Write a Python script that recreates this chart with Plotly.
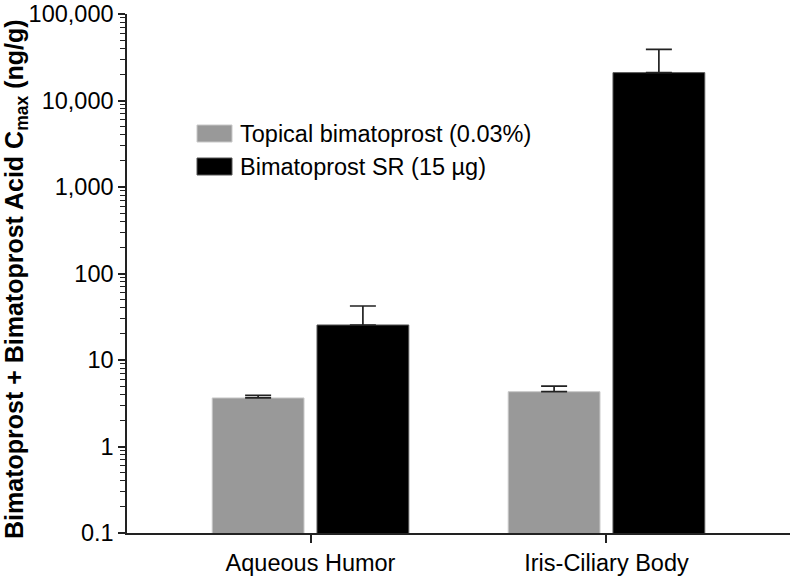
import plotly.graph_objects as go

categories = ["Aqueous Humor", "Iris-Ciliary Body"]
series_names = ["Topical bimatoprost (0.03%)", "Bimatoprost SR (15 µg)"]
topical = [3.64, 4.3]
topical_err = [0.27, 0.7]
sr = [25.4, 21000]
sr_err = [16.7, 18000]
ytick_vals = [0.1, 1, 10, 100, 1000, 10000, 100000]
ytick_text = ["0.1", "1", "10", "100", "1,000", "10,000", "100,000"]
y_title = "<b>Bimatoprost + Bimatoprost Acid C<sub>max</sub> (ng/g)</b>"
colors = ["#999999", "#000000"]
edges = ["#c8c8c8", "#555555"]

FONT = "Liberation Sans, Arial, sans-serif"
W, H = 792, 578
# plot area in page pixels
L, R, T, B = 127, 790, 14, 533

fig = go.Figure()
for name, vals, errs, col, edge in zip(series_names, [topical, sr], [topical_err, sr_err], colors, edges):
    fig.add_trace(go.Bar(
        x=categories, y=vals, name=name,
        marker=dict(color=col, line=dict(color=edge, width=1)),
        error_y=dict(type="data", array=errs, arrayminus=[0] * len(errs), symmetric=False,
                     color="#222222", thickness=1.7, width=13),
        showlegend=False,
    ))

def px(xp):
    return (xp - L) / (R - L)
def py(yp):
    return (B - yp) / (B - T)

shapes = []
annotations = []
for i, (name, col, edge) in enumerate(zip(series_names, colors, edges)):
    yc = 133.5 + i * 33
    shapes.append(dict(type="rect", xref="paper", yref="paper",
                       x0=px(197), x1=px(232), y0=py(yc + 8.5), y1=py(yc - 8.5),
                       fillcolor=col, line=dict(color=edge, width=1)))
    annotations.append(dict(xref="paper", yref="paper", x=px(238), y=py(yc),
                            xanchor="left", yanchor="middle", text=name, showarrow=False,
                            font=dict(family=FONT, size=23.5, color="black")))
annotations.append(dict(xref="paper", yref="paper", x=px(16), y=py(279),
                        xanchor="center", yanchor="middle", textangle=-90, text=y_title,
                        showarrow=False, borderpad=0,
                        font=dict(family=FONT, size=25, color="black")))

fig.update_layout(
    width=W, height=H,
    margin=dict(l=L, r=W - R, t=T, b=H - B, pad=0),
    paper_bgcolor="white", plot_bgcolor="white",
    barmode="group", bargap=0.292, bargroupgap=0.124,
    font=dict(family=FONT, size=23.5, color="black"),
    shapes=shapes, annotations=annotations,
    showlegend=False,
)
fig.update_xaxes(
    range=[-0.62, 1.62],
    showline=True, linecolor="#222222", linewidth=1.5,
    ticks="outside", ticklen=8, tickwidth=1.5, tickcolor="#222222",
    tickfont=dict(family=FONT, size=23.5, color="black"),
    showgrid=False, zeroline=False,
)
fig.update_yaxes(
    type="log", range=[-1, 5],
    tickvals=ytick_vals, ticktext=ytick_text,
    showline=True, linecolor="#222222", linewidth=1.5,
    ticks="outside", ticklen=7, tickwidth=1.5, tickcolor="#222222",
    tickfont=dict(family=FONT, size=23.5, color="black"),
    minor=dict(ticks="outside", ticklen=5, tickwidth=1.2, tickcolor="#222222", dtick="D1", showgrid=False),
    showgrid=False, zeroline=False,
)

fig.write_html("out.html", config={"displayModeBar": False},
               post_script="document.body.style.margin='0';document.body.style.overflow='hidden';")
